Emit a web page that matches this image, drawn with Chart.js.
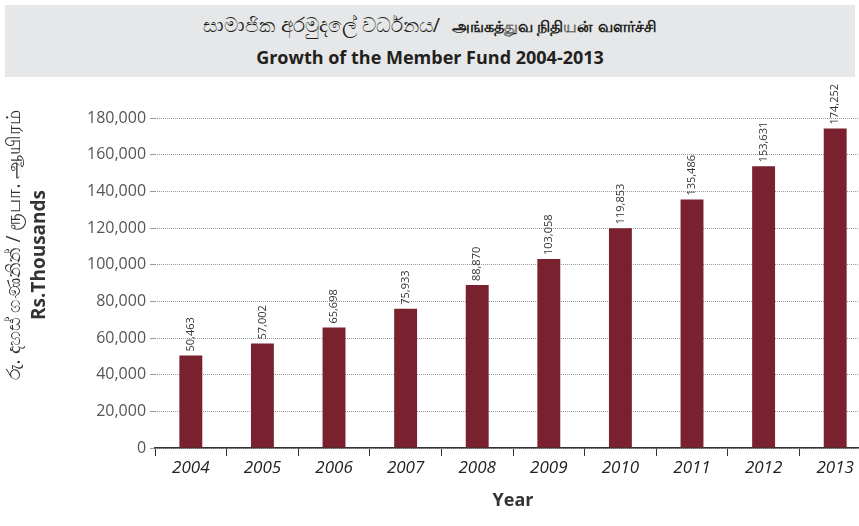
<!DOCTYPE html>
<html>
<head>
<meta charset="utf-8">
<script src="https://cdn.jsdelivr.net/npm/chart.js@4/dist/chart.umd.min.js"></script>
<style>
  html, body { margin: 0; padding: 0; background: #fff; overflow: hidden; }
  body { width: 859px; height: 526px; position: relative; font-family: "Open Sans", "Noto Sans", sans-serif; }
  #header {
    position: absolute; left: 5px; top: 5px; width: 850px; height: 72px;
    background: #e6e7e8; text-align: center; color: #231f20;
  }
  #header .l1 { position: absolute; left: 0; right: 0; top: 8px; font-size: 20px; line-height: 24px; }
  #header .l1 b { font-size: 16px; margin-left: 12px; }
  #header .l2 { position: absolute; left: 0; right: 0; top: 39px; font-size: 18px; font-weight: 700; line-height: 26px; }
  #wrap { position: absolute; left: 0; top: 0; width: 880px; height: 526px; }
</style>
</head>
<body>
<div id="header">
  <div class="l1">සාමාජික අරමුදලේ වර්ධනය/<b>அங்கத்துவ நிதியன் வளர்ச்சி</b></div>
  <div class="l2">Growth of the Member Fund 2004-2013</div>
</div>
<div id="wrap"><canvas id="fundChart" width="880" height="526"></canvas></div>
<script>
// Member fund, Rs. thousands
const years = ['2004', '2005', '2006', '2007', '2008', '2009', '2010', '2011', '2012', '2013'];
const fundValues = [50463, 57002, 65698, 75933, 88870, 103058, 119853, 135486, 153631, 174252];
const yTickStep = 20000;
const yMax = 180000;

const yTitleMain = 'Rs.Thousands';
const yTitleLocal = 'රු. දහස් ගණනින් / ரூபா. ஆயிரம்';
const xTitle = 'Year';

const fmt = v => v.toLocaleString('en-US');

// rotated value labels above every bar
const barValueLabels = {
    id: 'barValueLabels',
    afterDatasetsDraw(chart) {
        const ctx = chart.ctx;
        const meta = chart.getDatasetMeta(0);
        ctx.save();
        ctx.font = '11px "Open Sans", sans-serif';
        ctx.fillStyle = '#333';
        ctx.textAlign = 'left';
        ctx.textBaseline = 'middle';
        meta.data.forEach((bar, i) => {
            ctx.save();
            ctx.translate(bar.x, bar.y - 4);
            ctx.rotate(-Math.PI / 2);
            ctx.fillText(fmt(fundValues[i]), 0, 0);
            ctx.restore();
        });
        ctx.restore();
    }
};

// two-line y axis title, local languages above the English one
const yAxisTitle = {
    id: 'yAxisTitle',
    afterDraw(chart) {
        const ctx = chart.ctx;
        ctx.save();
        ctx.fillStyle = '#333';
        ctx.textAlign = 'center';
        ctx.textBaseline = 'middle';

        ctx.save();
        ctx.translate(15, 245);
        ctx.rotate(-Math.PI / 2);
        ctx.font = '19px "Noto Sans", sans-serif';
        ctx.fillText(yTitleLocal, 0, 0);
        ctx.restore();

        ctx.save();
        ctx.translate(40, 255);
        ctx.rotate(-Math.PI / 2);
        ctx.font = 'bold 19px "Open Sans", sans-serif';
        ctx.fillText(yTitleMain, 0, 0);
        ctx.restore();

        ctx.restore();
    }
};

new Chart(document.getElementById('fundChart'), {
    type: 'bar',
    data: {
        labels: years,
        datasets: [{
            data: fundValues,
            backgroundColor: '#7a2130',
            barPercentage: 0.32,
            categoryPercentage: 1
        }]
    },
    options: {
        responsive: false,
        animation: false,
        layout: { padding: { left: 83, right: 9, top: 118, bottom: 14 } },
        plugins: {
            legend: { display: false },
            tooltip: { enabled: false }
        },
        scales: {
            x: {
                grid: {
                    offset: true,
                    drawOnChartArea: false,
                    color: '#333',
                    tickLength: 8,
                    tickWidth: 1
                },
                border: { display: true, color: '#333', width: 1.5 },
                ticks: {
                    color: '#222',
                    padding: 2,
                    font: { family: '"Open Sans", sans-serif', size: 17, style: 'italic' }
                },
                title: {
                    display: true,
                    text: xTitle,
                    color: '#333',
                    padding: { top: 10, bottom: 0 },
                    font: { family: '"Open Sans", sans-serif', size: 18, weight: 'bold' }
                }
            },
            y: {
                min: 0,
                max: yMax,
                ticks: {
                    stepSize: yTickStep,
                    color: '#555',
                    padding: 4,
                    font: { family: '"Open Sans", sans-serif', size: 16 },
                    callback: v => fmt(v)
                },
                grid: {
                    color: '#999',
                    lineWidth: 1,
                    tickLength: 5,
                    tickColor: '#999',
                    tickBorderDash: []
                },
                border: { display: false, dash: [1, 1] }
            }
        }
    },
    plugins: [barValueLabels, yAxisTitle]
});
</script>
</body>
</html>
